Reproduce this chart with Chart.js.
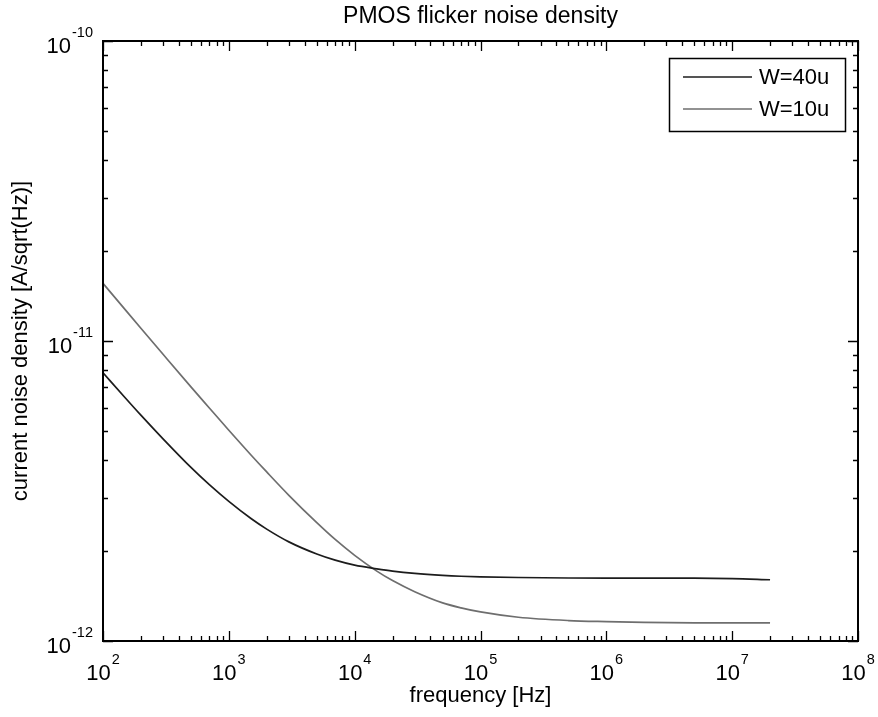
<!DOCTYPE html>
<html><head><meta charset="utf-8">
<script src="https://cdn.jsdelivr.net/npm/chart.js@4/dist/chart.umd.min.js"></script>
<style>html,body{margin:0;padding:0;background:#fff;} #wrap{width:878px;height:717px;}</style>
</head><body><div id="wrap"><canvas id="c" width="878" height="717"></canvas></div>
<script>
const chartTitle = 'PMOS flicker noise density';
const xAxisTitle = 'frequency [Hz]';
const yAxisTitle = 'current noise density [A/sqrt(Hz)]';
const seriesNames = ['W=40u', 'W=10u'];

const freqHz = [100, 150, 200, 300, 500, 700, 1e3, 1.5e3, 2e3, 3e3, 5e3, 7e3, 1e4, 1.5e4, 2e4, 3e4, 5e4, 7e4, 1e5, 2e5, 5e5, 1e6, 2e6, 5e6, 1e7, 2e7];
const noiseW40 = [7.84e-12, 6.47e-12, 5.66e-12, 4.72e-12, 3.79e-12, 3.32e-12, 2.92e-12, 2.56e-12, 2.36e-12, 2.14e-12, 1.95e-12, 1.86e-12, 1.79e-12, 1.74e-12, 1.71e-12, 1.68e-12, 1.655e-12, 1.644e-12, 1.637e-12, 1.628e-12, 1.622e-12, 1.62e-12, 1.62e-12, 1.62e-12, 1.615e-12, 1.60e-12];
const noiseW10 = [1.556e-11, 1.272e-11, 1.103e-11, 9.03e-12, 7.03e-12, 5.98e-12, 5.04e-12, 4.17e-12, 3.66e-12, 3.06e-12, 2.48e-12, 2.18e-12, 1.93e-12, 1.71e-12, 1.59e-12, 1.46e-12, 1.34e-12, 1.29e-12, 1.25e-12, 1.20e-12, 1.17e-12, 1.16e-12, 1.153e-12, 1.15e-12, 1.15e-12, 1.149e-12];

const xTickExponents = [2, 3, 4, 5, 6, 7, 8];
const yTickExponents = [-12, -11, -10];
const seriesColors = ['#1c1c1c', '#6e6e6e'];

const FONT = '"Liberation Sans", Arial, Helvetica, sans-serif';

const matlabFrame = {
  id: 'matlabFrame',
  afterDatasetsDraw(chart) {
    const {ctx, chartArea: a, scales: {x, y}} = chart;
    ctx.save();
    ctx.strokeStyle = '#000';
    // ticks (inward, all four sides)
    const MAJ = 10, MIN = 5;
    ctx.lineWidth = 1.3;
    ctx.beginPath();
    xTickExponents.forEach((e, i) => {
      const vals = [[Math.pow(10, e), MAJ]];
      if (i < xTickExponents.length - 1) for (let k = 2; k < 10; k++) vals.push([k * Math.pow(10, e), MIN]);
      vals.forEach(([v, len]) => {
        const px = Math.round(x.getPixelForValue(v)) + 0.5;
        ctx.moveTo(px, a.bottom); ctx.lineTo(px, a.bottom - len);
        ctx.moveTo(px, a.top); ctx.lineTo(px, a.top + len);
      });
    });
    yTickExponents.forEach((e, i) => {
      const vals = [[Math.pow(10, e), MAJ]];
      if (i < yTickExponents.length - 1) for (let k = 2; k < 10; k++) vals.push([k * Math.pow(10, e), MIN]);
      vals.forEach(([v, len]) => {
        const py = Math.round(y.getPixelForValue(v)) + 0.5;
        ctx.moveTo(a.left, py); ctx.lineTo(a.left + len, py);
        ctx.moveTo(a.right, py); ctx.lineTo(a.right - len, py);
      });
    });
    ctx.stroke();
    // box
    ctx.lineWidth = 2;
    ctx.strokeRect(Math.round(a.left), Math.round(a.top), Math.round(a.right - a.left), Math.round(a.bottom - a.top));

    // title centred over the axes
    ctx.fillStyle = '#000';
    ctx.font = '23px ' + FONT;
    ctx.textAlign = 'center';
    ctx.textBaseline = 'middle';
    ctx.fillText(chartTitle, (a.left + a.right) / 2, 17);

    // tick labels with superscript exponents
    ctx.textBaseline = 'alphabetic';
    ctx.textAlign = 'left';
    const baseFont = '22px ' + FONT, expFont = '14.5px ' + FONT;
    const measure = (e) => {
      ctx.font = baseFont; const wb = ctx.measureText('10').width;
      ctx.font = expFont; const we = ctx.measureText(String(e)).width;
      return [wb, we];
    };
    const drawLabel = (e, sx, base) => {
      const [wb] = measure(e);
      ctx.font = baseFont; ctx.fillText('10', sx, base);
      ctx.font = expFont; ctx.fillText(String(e), sx + wb + 1, base - 16);
    };
    xTickExponents.forEach(e => {
      const [wb, we] = measure(e);
      const px = x.getPixelForValue(Math.pow(10, e));
      drawLabel(e, px - (wb + we + 1) / 2, a.bottom + 39);
    });
    yTickExponents.forEach(e => {
      const [wb, we] = measure(e);
      const py = y.getPixelForValue(Math.pow(10, e));
      drawLabel(e, a.left - 10 - (wb + we + 1), py + 12);
    });

    // legend box inside axes (top-right)
    const bw = 176, bh = 73;
    const bx = Math.round(a.right - 13 - bw), by = Math.round(a.top + 17);
    ctx.fillStyle = '#fff';
    ctx.fillRect(bx, by, bw, bh);
    ctx.lineWidth = 1.5;
    ctx.strokeStyle = '#000';
    ctx.strokeRect(bx + 0.5, by + 0.5, bw, bh);
    chart.data.datasets.forEach((ds, i) => {
      const ry = by + 19 + i * 32;
      ctx.strokeStyle = ds.borderColor;
      ctx.lineWidth = ds.borderWidth;
      ctx.beginPath(); ctx.moveTo(bx + 14, ry); ctx.lineTo(bx + 83, ry); ctx.stroke();
      ctx.fillStyle = '#000';
      ctx.font = '22px ' + FONT;
      ctx.textBaseline = 'middle';
      ctx.fillText(ds.label, bx + 90, ry + 1);
    });
    ctx.restore();
  }
};

new Chart(document.getElementById('c'), {
  type: 'line',
  data: {
    datasets: [
      {label: seriesNames[0], data: freqHz.map((f, i) => ({x: f, y: noiseW40[i]})), borderColor: seriesColors[0], borderWidth: 1.7, pointRadius: 0, cubicInterpolationMode: 'monotone', fill: false},
      {label: seriesNames[1], data: freqHz.map((f, i) => ({x: f, y: noiseW10[i]})), borderColor: seriesColors[1], borderWidth: 1.7, pointRadius: 0, cubicInterpolationMode: 'monotone', fill: false}
    ]
  },
  options: {
    responsive: false,
    animation: false,
    devicePixelRatio: 1,
    layout: {padding: {left: 0, right: 20, top: 41, bottom: 0}},
    plugins: {
      legend: {display: false},
      tooltip: {enabled: false},
      title: {display: false}
    },
    scales: {
      x: {
        type: 'logarithmic', min: 1e2, max: 1e8, position: 'bottom',
        grid: {display: false}, border: {display: false}, ticks: {display: false},
        title: {display: true, text: xAxisTitle, color: '#000', font: {family: FONT, size: 22, weight: 'normal'}, padding: {top: 0, bottom: 7.5}},
        afterFit(s) { s.height = 76; }
      },
      y: {
        type: 'logarithmic', min: 1e-12, max: 1e-10, position: 'left',
        grid: {display: false}, border: {display: false}, ticks: {display: false},
        title: {display: true, text: yAxisTitle, color: '#000', font: {family: FONT, size: 22, weight: 'normal'}, padding: {top: 7.8, bottom: 0}},
        afterFit(s) { s.width = 103; }
      }
    }
  },
  plugins: [matlabFrame]
});
</script>
</body></html>
